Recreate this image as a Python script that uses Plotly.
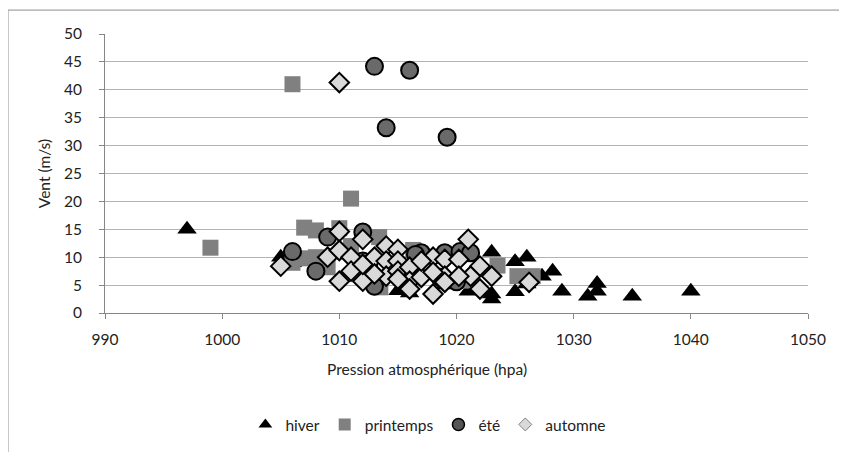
import plotly.graph_objects as go

# ---- data ----
hiver_p = [997, 1005, 1006, 1015, 1016, 1021, 1023, 1023, 1023, 1025, 1026, 1025, 1026,
           1027.3, 1028.2, 1029, 1031.2, 1032, 1032, 1035, 1040, 1019]
hiver_v = [15, 10, 9, 4, 3.6, 3.9, 10.9, 3.4, 2.5, 9.2, 10, 3.8, 5.2,
           6.6, 7.5, 3.9, 3, 5.3, 3.9, 3, 3.9, 5]

print_p = [999, 1006, 1011, 1007, 1008, 1010, 1007, 1006, 1008, 1011, 1013.4, 1013.5,
           1016.3, 1021, 1023.5, 1025.2, 1026.5, 1012, 1009]
print_v = [11.7, 41, 20.5, 15.3, 14.8, 15.2, 9.8, 9, 10, 12, 13.6, 4.6,
           11.3, 5.8, 8.5, 6.6, 6.6, 9, 8.2]

ete_p = [1013, 1016, 1014, 1019.2, 1006, 1009, 1012, 1008, 1012, 1013, 1017,
         1019, 1016.5, 1018.6, 1020.3, 1021.2, 1012.5, 1016, 1020]
ete_v = [44.2, 43.5, 33.2, 31.5, 11, 13.6, 14.5, 7.5, 9.3, 4.8, 10.8,
         10.8, 10.5, 6.4, 11, 10.8, 8.5, 7, 5.6]

aut_p = [1010, 1005, 1009, 1010, 1010, 1010, 1011, 1011, 1012, 1013, 1014, 1015,
         1014, 1015, 1014, 1015, 1016, 1016, 1017, 1018, 1018, 1019, 1017, 1019,
         1018, 1021, 1020.2, 1022, 1021.2, 1023, 1022, 1020.2, 1026.2, 1012, 1013,
         1016, 1019, 1012, 1015]
aut_v = [41.3, 8.4, 10, 14.6, 11.2, 5.7, 10, 7.5, 13.2, 10, 12, 11.4,
         9.3, 9.3, 6.6, 7.5, 8.2, 5.7, 6.4, 3.4, 10, 9.6, 9.3, 6.6,
         7.3, 13.2, 9.6, 8.4, 6.6, 6.6, 4.3, 6.6, 5.5, 5.7, 7,
         4.3, 5.5, 8.7, 6.1]

x_ticks = [990, 1000, 1010, 1020, 1030, 1040, 1050]
y_ticks = [0, 5, 10, 15, 20, 25, 30, 35, 40, 45, 50]

FONT = "Lato"
FS = 15.5
TXT = "#222222"

fig = go.Figure()

fig.add_trace(go.Scatter(x=hiver_p, y=hiver_v, mode="markers", name="hiver", showlegend=False,
                         marker=dict(symbol="triangle-up", size=17, color="black",
                                     line=dict(width=0))))
fig.add_trace(go.Scatter(x=print_p, y=print_v, mode="markers", name="printemps", showlegend=False,
                         marker=dict(symbol="square", size=16, color="#808080",
                                     line=dict(width=0))))
fig.add_trace(go.Scatter(x=ete_p, y=ete_v, mode="markers", name="été", showlegend=False,
                         marker=dict(symbol="circle", size=17, color="#6a6a6a",
                                     line=dict(width=2, color="black"))))
fig.add_trace(go.Scatter(x=aut_p, y=aut_v, mode="markers", name="automne", showlegend=False,
                         marker=dict(symbol="diamond", size=15, color="#d9d9d9",
                                     line=dict(width=2, color="black"))))

# legend-only entries with small symbols
fig.add_trace(go.Scatter(x=[None], y=[None], mode="markers", name="hiver",
                         marker=dict(symbol="triangle-up", size=12, color="black", line=dict(width=0))))
fig.add_trace(go.Scatter(x=[None], y=[None], mode="markers", name="printemps",
                         marker=dict(symbol="square", size=12, color="#808080", line=dict(width=0))))
fig.add_trace(go.Scatter(x=[None], y=[None], mode="markers", name="été",
                         marker=dict(symbol="circle", size=12, color="#555555",
                                     line=dict(width=1.5, color="black"))))
fig.add_trace(go.Scatter(x=[None], y=[None], mode="markers", name="automne",
                         marker=dict(symbol="diamond", size=10, color="#d9d9d9",
                                     line=dict(width=1, color="#808080"))))

fig.update_layout(
    width=839, height=444,
    margin=dict(l=97, r=39, t=26, b=138),
    paper_bgcolor="white", plot_bgcolor="white",
    font=dict(family=FONT, size=FS, color=TXT),
    legend=dict(orientation="h", x=0.46, xanchor="center", y=-0.396, yanchor="middle",
                font=dict(family=FONT, size=FS, color=TXT),
                itemwidth=30, tracegroupgap=0),
    shapes=[dict(type="rect", xref="paper", yref="paper",
                 x0=-0.138, y0=-0.56, x1=1.08, y1=1.0857,
                 line=dict(color="#8c8c8c", width=1), layer="below")],
    annotations=[dict(text="Pression atmosphérique (hpa)", xref="paper", yref="paper",
                      x=0.458, y=-0.2, xanchor="center", yanchor="middle",
                      showarrow=False, font=dict(family=FONT, size=FS, color=TXT))],
)

fig.update_xaxes(range=[990, 1050], tickvals=x_ticks, ticktext=[str(t) for t in x_ticks],
                 showgrid=False, zeroline=False,
                 showline=True, linecolor="#868686", linewidth=1,
                 ticks="outside", ticklen=5, tickcolor="#868686",
                 ticklabelstandoff=7,
                 tickfont=dict(family=FONT, size=FS, color=TXT))
fig.update_yaxes(range=[0, 50], tickvals=y_ticks, ticktext=[str(t) for t in y_ticks],
                 showgrid=True, gridcolor="#b3b3b3", gridwidth=1, zeroline=False,
                 showline=True, linecolor="#868686", linewidth=1,
                 ticks="outside", ticklen=5, tickcolor="#868686",
                 ticklabelstandoff=14,
                 tickfont=dict(family=FONT, size=FS, color=TXT),
                 title=dict(text="Vent (m/s)", standoff=9,
                            font=dict(family=FONT, size=FS, color=TXT)))

fig.write_html("out.html")
